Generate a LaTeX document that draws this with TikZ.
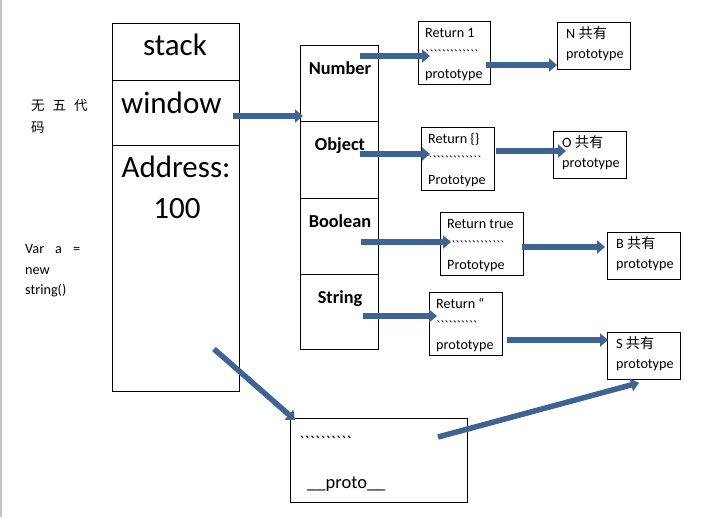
\documentclass[tikz,border=0pt]{standalone}
\usepackage{fontspec}
\setmainfont{Carlito}
\newfontfamily\cjk{Noto Sans CJK SC}
\newfontfamily\tickfont{Carlito}[Ligatures=TeXOff]
\usetikzlibrary{arrows.meta,calc}
\definecolor{arrowblue}{RGB}{61,100,148}
\tikzset{
  box/.style={draw, line width=0.8pt, anchor=north west, inner sep=0pt},
  txt/.style={anchor=base west, inner sep=0pt, font=\fontsize{14.2}{16}\selectfont},
  big/.style={inner sep=0pt, font=\fontsize{31}{35}\selectfont},
  type label/.style={anchor=base, inner sep=0pt, font=\bfseries\fontsize{18.3}{20}\selectfont},
  blk/.style={draw=arrowblue, line width=5.5pt, -{Triangle[length=8pt,width=13pt]}}
}
% box: name, x, y (top left), width, height
\def\Cell#1#2#3#4#5{%
  \node[box, minimum width=#4pt, minimum height=#5pt] (#1) at (#2,#3) {};
}
% return box: name, text, ticks, last line
\def\RetText#1#2#3#4{%
  \node[txt] (#1a) at ($(#1.north west)+(7,16)$) {#2};
  \node[txt, font=\tickfont\fontsize{14}{16}\selectfont] (#1b) at ($(#1.north west)+(7,38)$) {#3};
  \node[txt] (#1c) at ($(#1.north west)+(7,57)$) {#4};
}
% shared prototype box: name, letter
\def\ShareText#1#2{%
  \node[txt] (#1a) at ($(#1.north west)+(9,16)$) {#2 {\cjk 共有}};
  \node[txt] (#1b) at ($(#1.north west)+(9,36)$) {prototype};
}
\begin{document}
\begin{tikzpicture}[x=1pt, y=-1pt]
\useasboundingbox (0,0) rectangle (714,517);
\draw[gray!45, line width=1.5pt] (0.75,0) -- (0.75,517);
% stack
\Cell{stk}{112}{23}{127}{57}
\Cell{win}{112}{80}{127}{65}
\Cell{addr}{112}{145}{127}{246}
\node[big, anchor=base] (stkT) at (175,55) {stack};
\node[big, anchor=base west] (winT) at (121,113) {window};
\node[big, anchor=base] (addrT) at (176,177) {Address:};
\node[big, anchor=base] (addrN) at (177,218) {100};
% type column
\Cell{cNum}{300}{45}{78}{76}
\Cell{cObj}{300}{121}{78}{77}
\Cell{cBool}{300}{198}{78}{76}
\Cell{cStr}{300}{274}{78}{75}
\node[type label] (numT) at (340,74) {Number};
\node[type label] (objT) at (340,150) {Object};
\node[type label] (boolT) at (340,227) {Boolean};
\node[type label] (strT) at (340,303) {String};
% constructors
\Cell{rNum}{418}{21}{72}{63}
\Cell{rObj}{421}{127}{73}{63}
\Cell{rBool}{440}{212}{83}{63}
\Cell{rStr}{429}{292}{73}{63}
\RetText{rNum}{Return 1}{`````````````}{prototype}
\RetText{rObj}{Return \{\}}{`````````````}{Prototype}
\RetText{rBool}{Return true}{``````````````}{Prototype}
\RetText{rStr}{Return “}{``````````}{prototype}
% shared prototypes
\Cell{pNum}{557}{22}{73}{47}
\Cell{pObj}{553}{131}{73}{47}
\Cell{pBool}{607}{232}{73}{47}
\Cell{pStr}{607}{332}{73}{47}
\ShareText{pNum}{N}
\ShareText{pObj}{O}
\ShareText{pBool}{B}
\ShareText{pStr}{S}
% instance
\Cell{proto}{290}{418}{177}{84}
\node[txt, font=\tickfont\fontsize{18}{20}\selectfont] (protoT) at (299,448) {``````````};
\node[txt, font=\fontsize{18.5}{20}\selectfont] (protoN) at (307,488) {\_\_proto\_\_};
% notes
\node[txt, font=\cjk\fontsize{13.5}{15}\selectfont] (note1) at (31,110) {无\hspace{8pt}五\hspace{8pt}代};
\node[txt, font=\cjk\fontsize{13.5}{15}\selectfont] (note2) at (31,132) {码};
\node[txt] (code1) at (25,253) {Var\hspace{11pt}a\hspace{11pt}=};
\node[txt] (code2) at (25,274) {new};
\node[txt] (code3) at (25,294) {string()};
% arrows
\coordinate (winA) at (233,116);
\coordinate (numA) at (360,56);
\coordinate (objA) at (360,154);
\coordinate (boolA) at (361,242);
\coordinate (strA) at (363,316);
\coordinate (rNumA) at (486,65);
\coordinate (rObjA) at (496,151);
\coordinate (rBoolA) at (522,247);
\coordinate (rStrA) at (507,340);
\coordinate (addrA) at (214,349);
\coordinate (protoA) at (438,437);
\draw[blk] (winA) -- ([xshift=3pt]winA -| cNum.west);
\draw[blk] (numA) -- ([xshift=12pt]numA -| rNum.west);
\draw[blk] (objA) -- ([xshift=9pt]objA -| rObj.west);
\draw[blk] (boolA) -- ([xshift=11pt]boolA -| rBool.west);
\draw[blk] (strA) -- ([xshift=8pt]strA -| rStr.west);
\draw[blk] (rNumA) -- (rNumA -| pNum.west);
\draw[blk] (rObjA) -- ([xshift=13pt]rObjA -| pObj.west);
\draw[blk] (rBoolA) -- ([xshift=-2pt]rBoolA -| pBool.west);
\draw[blk] (rStrA) -- ([xshift=1pt]rStrA -| pStr.west);
\draw[blk] (addrA) -- ([xshift=5pt,yshift=-2pt]proto.north west);
\draw[blk] (protoA) -- ([xshift=32pt,yshift=-3pt]pStr.south west);
\end{tikzpicture}
\end{document}
